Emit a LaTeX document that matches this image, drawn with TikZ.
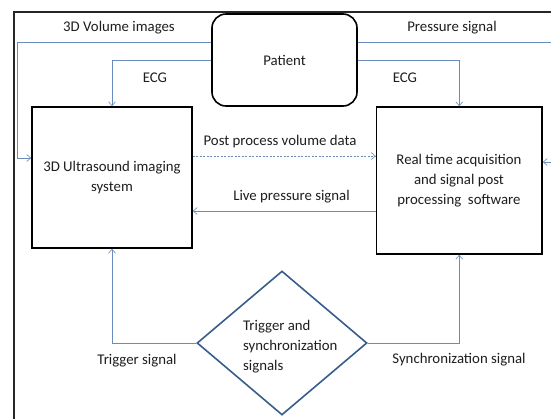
\documentclass[tikz,border=0pt]{standalone}
\usepackage{fontspec}
\setmainfont{Carlito}
\usetikzlibrary{arrows.meta,shapes.geometric}
\definecolor{conncol}{RGB}{105,140,185}
\definecolor{diacol}{RGB}{56,93,138}
\definecolor{txtcol}{RGB}{30,30,30}
\tikzset{
  boxnode/.style={draw=black,line width=1.6pt,inner sep=0pt,align=center,text=txtcol},
  conn/.style={draw=conncol,line width=0.7pt},
  arr/.style={-{Straight Barb[length=4pt,width=7pt,line width=0.6pt]}},
  lbl/.style={text=txtcol,inner sep=0pt},
  ddash/.style={dash pattern=on 2pt off 1.5pt}
}
\begin{document}
\begin{tikzpicture}[x=1pt,y=-1pt,font=\fontsize{14.8}{20}\selectfont]
\useasboundingbox (0,0) rectangle (551,418);
\clip (0,0) rectangle (551,418);
\fill[white] (0,0) rectangle (551,418);
% outer frame
\draw[line width=1.1pt,draw=black!85] (14,12) rectangle (600,460);
% nodes
\node[boxnode,rounded corners=14pt,minimum width=145pt,minimum height=92pt] (patient) at (284.5,60) {Patient};
\node[boxnode,minimum width=160pt,minimum height=141pt] (lbox) at (112,177.5) {};
\node[lbl,align=center] (ltext) at (112,178) {3D Ultrasound imaging\\system};
\node[boxnode,minimum width=165.5pt,minimum height=147pt] (rbox) at (459.25,180.5) {};
\node[lbl,align=center] (rtext) at (459,181) {Real time acquisition\\and signal post\\processing\ \ software};
\node[diamond,draw=diacol,line width=1.6pt,minimum width=170pt,minimum height=144pt,inner sep=0pt] (sync) at (282,343) {};
\node[lbl,align=left,anchor=west] (synctext) at (243,347) {Trigger and\\synchronization\\signals};
% helper coordinates
\coordinate (yvol) at (0,42);
\coordinate (yvolin) at (0,158);
\coordinate (ypress) at (0,162);
\coordinate (ypp) at (0,156);
\coordinate (ylive) at (0,211);
\coordinate (xvol) at (17,0);
\coordinate (xright) at (570,0);
% connectors
\draw[conn,arr] (patient.west |- yvol) -- (xvol |- yvol) -- (xvol |- yvolin) -- (lbox.west |- yvolin);
\draw[conn,arr] (patient.west) -| (lbox.north);
\draw[conn,arr] (patient.east |- yvol) -- (xright |- yvol) -- (xright |- ypress) -- (rbox.east |- ypress);
\draw[conn,arr] (patient.east) -| (rbox.north);
\draw[conn,arr,ddash] (lbox.east |- ypp) -- (rbox.west |- ypp);
\draw[conn,arr] (rbox.west |- ylive) -- (lbox.east |- ylive);
\draw[conn,arr] (sync.west) -| (lbox.south);
\draw[conn,arr] (sync.east) -| (rbox.south);
% labels
\node[lbl] (l1) at (119,28) {3D Volume images};
\node[lbl] (l2) at (452,28) {Pressure signal};
\node[lbl] (l3) at (155,78) {ECG};
\node[lbl] (l4) at (405,78) {ECG};
\node[lbl] (l5) at (280,142) {Post process volume data};
\node[lbl] (l6) at (291.5,197) {Live pressure signal};
\node[lbl] (l7) at (137,361) {Trigger signal};
\node[lbl] (l8) at (459,360) {Synchronization signal};
\end{tikzpicture}
\end{document}
